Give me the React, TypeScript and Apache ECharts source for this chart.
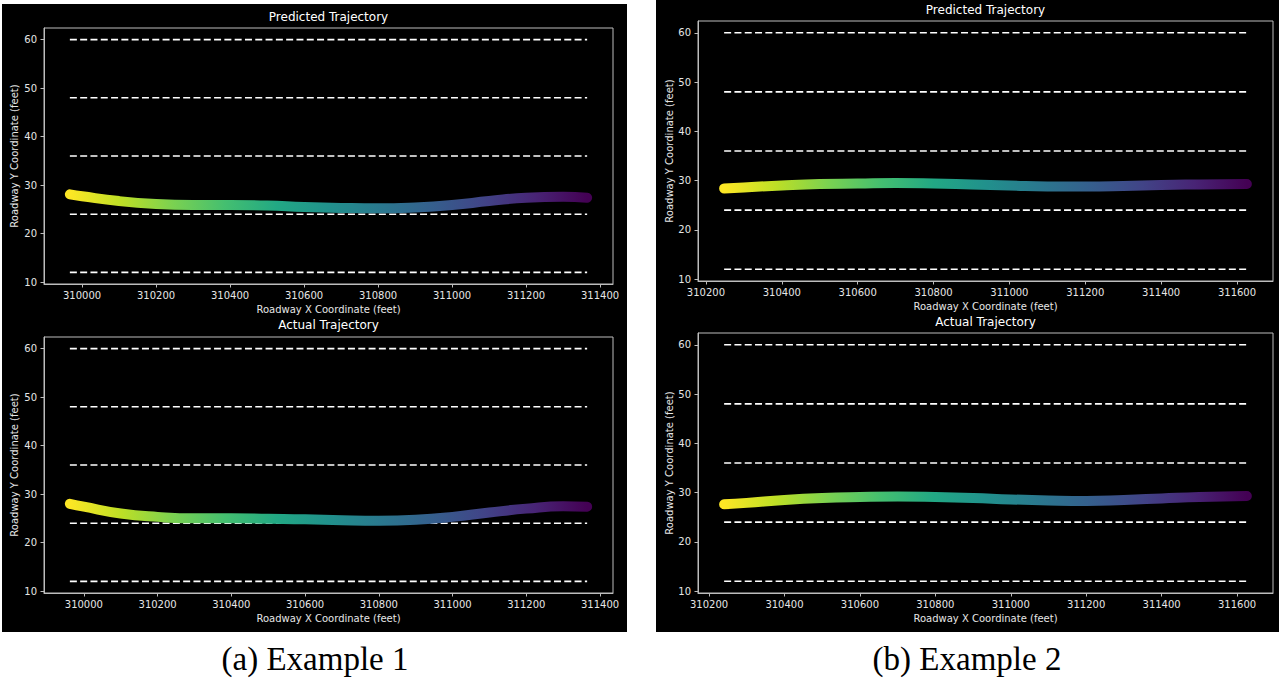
import React, { useEffect, useRef } from "react";
import * as echarts from "echarts";

// ---------- data ----------
const laneYs = [12, 24, 36, 48, 60];
const yTicks = [10, 20, 30, 40, 50, 60];
const xTicksA = [310000, 310200, 310400, 310600, 310800, 311000, 311200, 311400];
const xTicksB = [310200, 310400, 310600, 310800, 311000, 311200, 311400, 311600];

const predA_x = [309967, 310000, 310100, 310200, 310300, 310400, 310500, 310600, 310700, 310800, 310900, 311000, 311100, 311200, 311300, 311365];
const predA_y = [28.1, 27.7, 26.7, 26.1, 25.9, 25.9, 25.8, 25.5, 25.3, 25.2, 25.4, 25.9, 26.7, 27.4, 27.6, 27.4];

const actA_x = [309962, 310000, 310100, 310200, 310300, 310400, 310500, 310600, 310700, 310800, 310900, 311000, 311100, 311200, 311300, 311365];
const actA_y = [28.0, 27.4, 26.0, 25.3, 25.0, 25.0, 24.9, 24.8, 24.6, 24.5, 24.7, 25.3, 26.2, 27.0, 27.5, 27.4];

const predB_x = [310248, 310300, 310400, 310500, 310600, 310700, 310800, 310900, 311000, 311100, 311200, 311300, 311400, 311500, 311626];
const predB_y = [28.4, 28.6, 29.0, 29.3, 29.4, 29.5, 29.4, 29.2, 29.0, 28.8, 28.8, 28.9, 29.1, 29.2, 29.3];

const actB_x = [310240, 310300, 310400, 310500, 310600, 310700, 310800, 310900, 311000, 311100, 311200, 311300, 311400, 311500, 311626];
const actB_y = [27.6, 27.9, 28.5, 28.9, 29.1, 29.2, 29.1, 28.9, 28.6, 28.4, 28.3, 28.5, 28.8, 29.1, 29.3];

const panelTitles = ["Predicted Trajectory", "Actual Trajectory", "Predicted Trajectory", "Actual Trajectory"];
const captions = ["(a) Example 1", "(b) Example 2"];
const xName = "Roadway X Coordinate (feet)";
const yName = "Roadway Y Coordinate (feet)";

// ---------- styling ----------
const FONT = "'DejaVu Sans', sans-serif";
const EDGE = "#bdbdbd";
const TXT = "#e6e6e6";
const viridisRev = ["#fde725", "#bddf26", "#7ad151", "#44bf70", "#22a884", "#21918c", "#2a788e", "#355f8d", "#414487", "#482475", "#440154"];

const grids = [
  { left: 44, top: 28, width: 569, height: 256 },
  { left: 44, top: 337, width: 569, height: 256 },
  { left: 698, top: 21, width: 575, height: 260 },
  { left: 698, top: 333, width: 575, height: 260 },
];

const panels = [
  { xs: predA_x, ys: predA_y, ticks: xTicksA, nameGapY: 25 },
  { xs: actA_x, ys: actA_y, ticks: xTicksA, nameGapY: 25 },
  { xs: predB_x, ys: predB_y, ticks: xTicksB, nameGapY: 24 },
  { xs: actB_x, ys: actB_y, ticks: xTicksB, nameGapY: 24 },
];

function zip(xs: number[], ys: number[]) {
  return xs.map((x, i) => [x, ys[i]]);
}

export default function App() {
  const ref = useRef<HTMLDivElement>(null);

  useEffect(() => {
    if (!ref.current) return;
    const chart = echarts.init(ref.current, undefined, { renderer: "svg" });

    const laneMin = Math.min(...laneYs);
    const laneMax = Math.max(...laneYs);
    const yPad = (laneMax - laneMin) * 0.05;

    const xAxis: any[] = [];
    const yAxis: any[] = [];
    const series: any[] = [];

    panels.forEach((p, i) => {
      const xmin = Math.min(...p.xs);
      const xmax = Math.max(...p.xs);
      const xPad = (xmax - xmin) * 0.05;
      xAxis.push({
        type: "value",
        gridIndex: i,
        min: xmin - xPad,
        max: xmax + xPad,
        splitLine: { show: false },
        axisLine: { show: true, onZero: false, lineStyle: { color: EDGE, width: 1 } },
        axisTick: { show: true, length: 3.5, customValues: p.ticks, lineStyle: { color: EDGE, width: 1 } },
        axisLabel: {
          customValues: p.ticks,
          color: TXT,
          fontFamily: FONT,
          fontSize: 10,
          margin: 6,
          formatter: (v: number) => String(Math.round(v)),
        },
        name: xName,
        nameLocation: "middle",
        nameGap: 20,
        nameTextStyle: { color: TXT, fontFamily: FONT, fontSize: 10 },
      });
      yAxis.push({
        type: "value",
        gridIndex: i,
        min: laneMin - yPad,
        max: laneMax + yPad,
        splitLine: { show: false },
        axisLine: { show: true, onZero: false, lineStyle: { color: EDGE, width: 1 } },
        axisTick: { show: true, length: 3.5, customValues: yTicks, lineStyle: { color: EDGE, width: 1 } },
        axisLabel: {
          customValues: yTicks,
          color: TXT,
          fontFamily: FONT,
          fontSize: 10,
          margin: 7,
          formatter: (v: number) => String(Math.round(v)),
        },
        name: yName,
        nameLocation: "middle",
        nameGap: p.nameGapY,
        nameTextStyle: { color: TXT, fontFamily: FONT, fontSize: 10 },
      });

      laneYs.forEach((ly) => {
        series.push({
          type: "line",
          xAxisIndex: i,
          yAxisIndex: i,
          data: [[xmin, ly], [xmax, ly]],
          symbol: "none",
          silent: true,
          lineStyle: { color: "#ffffff", width: 1.6, type: [7, 3.3] },
          z: 2,
        });
      });

      series.push({
        type: "line",
        xAxisIndex: i,
        yAxisIndex: i,
        data: zip(p.xs, p.ys),
        symbol: "none",
        smooth: true,
        silent: true,
        z: 3,
        lineStyle: {
          width: 10,
          cap: "round",
          join: "round",
          color: new echarts.graphic.LinearGradient(
            0, 0, 1, 0,
            viridisRev.map((c, k) => ({ offset: k / (viridisRev.length - 1), color: c }))
          ),
        },
      });
    });

    const graphic: any[] = [
      { type: "rect", z: -10, shape: { x: 2, y: 4, width: 625, height: 628 }, style: { fill: "#000" }, silent: true },
      { type: "rect", z: -10, shape: { x: 656, y: 0, width: 623, height: 632 }, style: { fill: "#000" }, silent: true },
    ];
    const titleY = [17, 325, 10, 322];
    grids.forEach((g, i) => {
      graphic.push({
        type: "text",
        x: g.left + g.width / 2,
        y: titleY[i],
        silent: true,
        style: {
          text: panelTitles[i],
          fill: "#ffffff",
          font: `12px ${FONT}`,
          align: "center",
          verticalAlign: "middle",
          textAlign: "center",
          textVerticalAlign: "middle",
        },
      });
    });
    const capX = [315, 967];
    captions.forEach((c, i) => {
      graphic.push({
        type: "text",
        x: capX[i],
        y: 659,
        silent: true,
        style: {
          text: c,
          fill: "#000000",
          font: `33px 'Liberation Serif', serif`,
          align: "center",
          verticalAlign: "middle",
          textAlign: "center",
          textVerticalAlign: "middle",
        },
      });
    });

    chart.setOption({
      animation: false,
      backgroundColor: "#ffffff",
      grid: grids.map((g) => ({ ...g, show: true, borderColor: EDGE, borderWidth: 1, backgroundColor: "transparent", containLabel: false })),
      xAxis,
      yAxis,
      series,
      graphic,
    });

    return () => chart.dispose();
  }, []);

  return (
    <div
      ref={ref}
      style={{ position: "fixed", left: 0, top: 0, width: 1279, height: 679 }}
    />
  );
}
